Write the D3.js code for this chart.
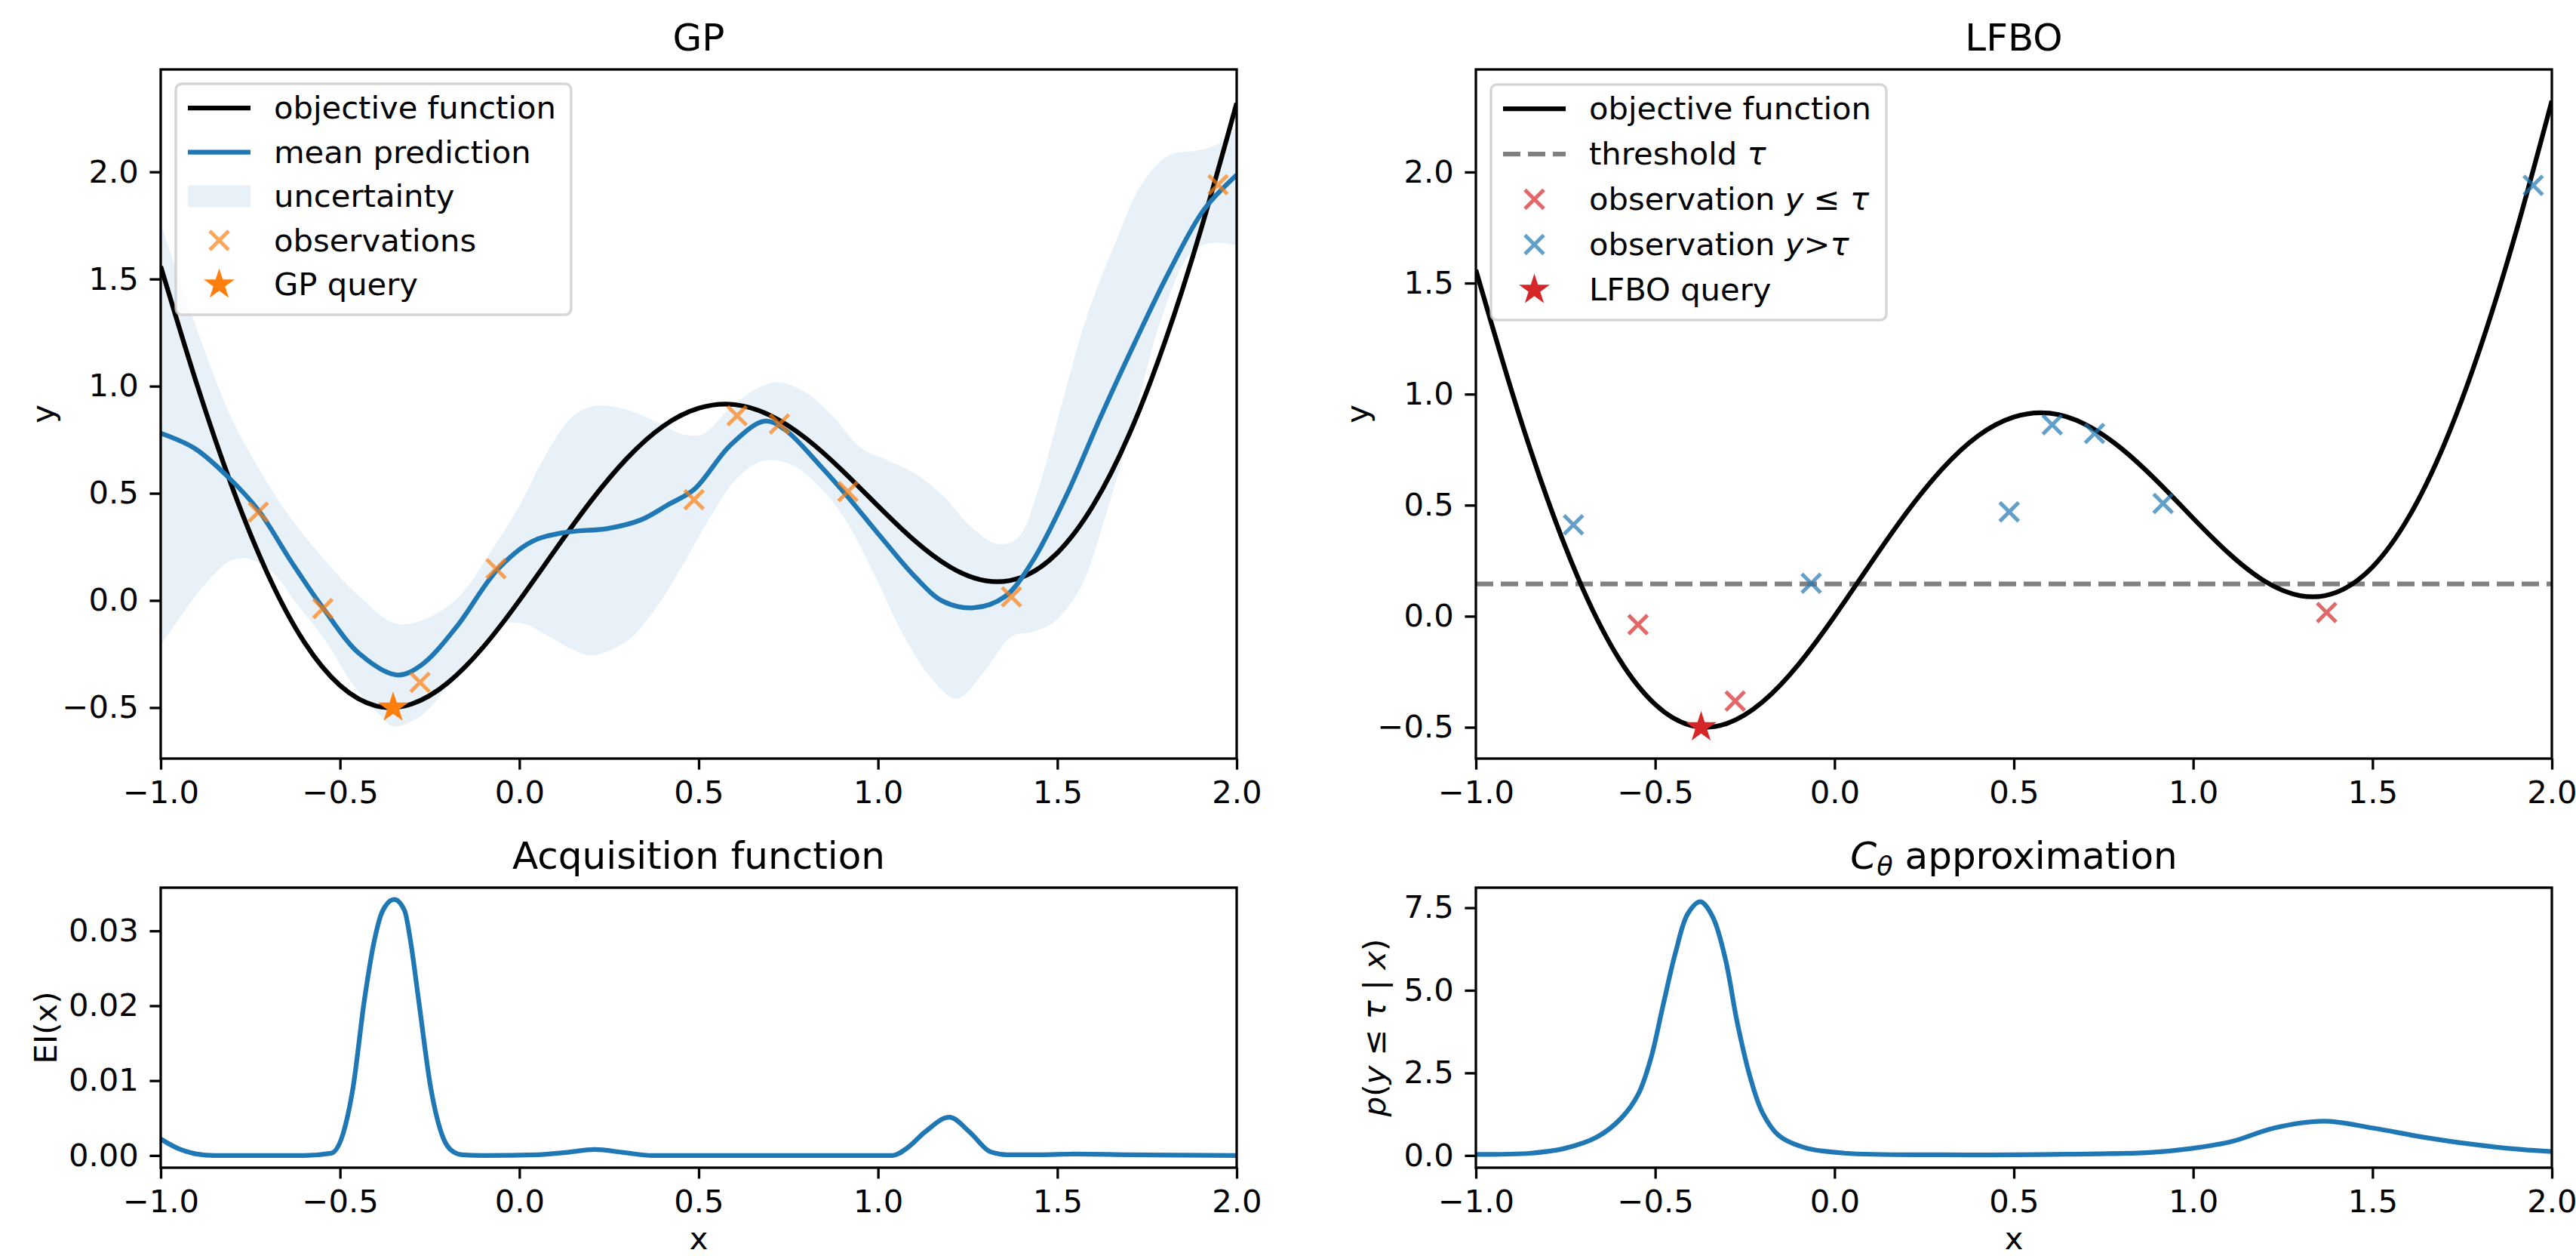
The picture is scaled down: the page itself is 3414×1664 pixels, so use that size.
<!DOCTYPE html>
<html>
<head>
<meta charset="utf-8">
<script src="https://cdn.jsdelivr.net/npm/d3@7"></script>
<style>
  body { margin: 0; background: #fff; }
  svg { display: block; font-family: "DejaVu Sans", sans-serif; }
</style>
</head>
<body>
<svg id="fig" width="3414" height="1664"></svg>
<script>
// ---------------- data ----------------
const xTicks = [-1, -0.5, 0, 0.5, 1, 1.5, 2];
const topYTicks = [-0.5, 0, 0.5, 1, 1.5, 2];
const eiTicks = [0, 0.01, 0.02, 0.03];
const clsTicks = [0, 2.5, 5, 7.5];

// objective function (black)
const objX = [-1.0, -0.9, -0.8, -0.7, -0.6, -0.5, -0.4, -0.3, -0.2, -0.1, 0.0,
  0.1, 0.2, 0.3, 0.4, 0.5, 0.6, 0.7, 0.8, 0.9, 1.0,
  1.1, 1.2, 1.3, 1.4, 1.5, 1.6, 1.7, 1.8, 1.9, 2.0];
const objY = [1.559, 1.013, 0.525, 0.117, -0.194, -0.397, -0.492, -0.483, -0.385, -0.216, 0.000,
  0.236, 0.465, 0.663, 0.812, 0.897, 0.914, 0.863, 0.755, 0.607, 0.441,
  0.282, 0.157, 0.092, 0.108, 0.222, 0.444, 0.774, 1.207, 1.729, 2.321];

// GP mean prediction
const meanX = [-1.0, -0.904, -0.809, -0.726, -0.636, -0.548, -0.445, -0.34, -0.273, -0.177, -0.063,
  0.033, 0.129, 0.244, 0.339, 0.416, 0.488, 0.588, 0.684, 0.741, 0.837, 0.913, 1.009,
  1.104, 1.181, 1.267, 1.353, 1.43, 1.525, 1.621, 1.717, 1.812, 1.908, 2.0];
const meanY = [0.780, 0.708, 0.571, 0.417, 0.181, -0.034, -0.250, -0.348, -0.301, -0.127, 0.140,
  0.273, 0.318, 0.335, 0.376, 0.448, 0.519, 0.724, 0.837, 0.796, 0.632, 0.489, 0.294,
  0.109, -0.004, -0.034, 0.017, 0.181, 0.489, 0.858, 1.207, 1.535, 1.822, 1.986];

// GP uncertainty band
const upperX = [-1.0, -0.895, -0.799, -0.732, -0.656, -0.56, -0.445, -0.34, -0.235, -0.158, -0.082,
  -0.005, 0.071, 0.148, 0.215, 0.301, 0.377, 0.454, 0.511, 0.588, 0.664, 0.722, 0.798,
  0.875, 0.951, 1.028, 1.104, 1.181, 1.258, 1.334, 1.391, 1.449, 1.506, 1.583, 1.659,
  1.736, 1.812, 1.889, 1.946, 2.0];
const upperY = [1.760, 1.247, 0.837, 0.632, 0.427, 0.222, 0.017, -0.110, -0.065, 0.037, 0.222,
  0.427, 0.673, 0.858, 0.909, 0.889, 0.837, 0.776, 0.776, 0.899, 0.991, 1.018, 0.971,
  0.858, 0.714, 0.653, 0.591, 0.489, 0.345, 0.263, 0.294, 0.530, 0.878, 1.330, 1.658,
  1.945, 2.078, 2.099, 2.129, 2.209];
const lowerX = [-1.0, -0.885, -0.809, -0.761, -0.694, -0.617, -0.541, -0.464, -0.388, -0.35, -0.273,
  -0.196, -0.12, -0.043, 0.014, 0.071, 0.148, 0.205, 0.301, 0.377, 0.454, 0.531, 0.607,
  0.684, 0.76, 0.837, 0.913, 0.99, 1.066, 1.143, 1.219, 1.296, 1.372, 1.43, 1.487,
  1.564, 1.64, 1.717, 1.793, 1.87, 1.927, 2.0];
const lowerY = [-0.209, 0.058, 0.181, 0.197, 0.140, -0.024, -0.188, -0.393, -0.537, -0.588, -0.537,
  -0.393, -0.229, -0.110, -0.110, -0.157, -0.229, -0.256, -0.188, -0.045, 0.161, 0.386, 0.571,
  0.653, 0.632, 0.530, 0.366, 0.120, -0.147, -0.352, -0.459, -0.332, -0.168, -0.147, -0.106,
  0.058, 0.427, 0.878, 1.330, 1.617, 1.668, 1.658];

// observations
const obsX = [-0.728, -0.548, -0.277, -0.065, 0.487, 0.607, 0.725, 0.916, 1.372, 1.948];
const obsY = [0.412, -0.038, -0.382, 0.148, 0.470, 0.862, 0.823, 0.508, 0.017, 1.940];
const tau = 0.145;
const gpQuery = [-0.352, -0.500];
const lfboQuery = [-0.372, -0.500];

// expected improvement
const eiX = [-1.0, -0.95, -0.9, -0.85, -0.6, -0.525, -0.491, -0.464, -0.432, -0.404, -0.381, -0.349,
  -0.32, -0.304, -0.281, -0.247, -0.212, -0.19, -0.16, -0.1, 0.05, 0.13, 0.21, 0.29, 0.37,
  1.04, 1.084, 1.13, 1.199, 1.256, 1.313, 1.36, 1.45, 1.55, 1.7, 2.0];
const eiY = [0.0022, 0.0009, 0.0002, 0.0, 0.0, 0.0003, 0.003, 0.009, 0.0208, 0.0288, 0.0327, 0.0342,
  0.0327, 0.0288, 0.0208, 0.009, 0.0023, 0.0007, 0.0001, 0.0, 0.0001, 0.0004, 0.0008, 0.0004, 0.0,
  0.0, 0.0011, 0.0031, 0.0051, 0.0031, 0.0005, 0.0001, 0.0001, 0.0002, 0.0001, 0.0];

// C_theta approximation
const clsX = [-1.0, -0.846, -0.754, -0.662, -0.593, -0.547, -0.512, -0.478, -0.443, -0.409, -0.374,
  -0.34, -0.305, -0.271, -0.236, -0.202, -0.156, -0.087, 0.028, 0.304, 0.649, 0.879, 0.994,
  1.11, 1.225, 1.363, 1.501, 1.639, 1.777, 1.915, 2.0];
const clsY = [0.03, 0.07, 0.21, 0.56, 1.15, 1.86, 2.94, 4.55, 6.16, 7.32, 7.68,
  7.23, 5.98, 4.01, 2.40, 1.32, 0.61, 0.25, 0.07, 0.02, 0.04, 0.09, 0.21,
  0.43, 0.83, 1.04, 0.83, 0.56, 0.34, 0.18, 0.12];

// ---------------- style ----------------
const FS = 41.7, TFS = 50;          // 10pt / 12pt at ~300 dpi
const LW = 6.25, SPINE = 3.3, TICK = 14.6;
const BLUE = "#1f77b4", ORANGE = "#ff7f0e", RED = "#d62728";

const svg = d3.select("#fig");
svg.append("rect").attr("width", 3414).attr("height", 1664).attr("fill", "#fff");
const defs = svg.append("defs");

const zip = (xs, ys) => xs.map((d, i) => [d, ys[i]]);

function starPath(R) {
  const r = R * 0.382, pts = [];
  for (let k = 0; k < 10; k++) {
    const a = -Math.PI / 2 + k * Math.PI / 5, rr = k % 2 ? r : R;
    pts.push([rr * Math.cos(a), rr * Math.sin(a)]);
  }
  return "M" + pts.join("L") + "Z";
}
const xMark = "M-12.5,-12.5L12.5,12.5M-12.5,12.5L12.5,-12.5";

// rich text: segments [text, style] where style is "i" (italic) or "sub"
function rich(sel, segs) {
  let sub = false;
  segs.forEach(([t, s]) => {
    const ts = sel.append("tspan").text(t);
    if (s === "i") ts.attr("font-style", "italic");
    if (s === "sub") {
      ts.attr("font-style", "italic").attr("font-size", "0.7em").attr("dy", "0.25em");
      sub = true;
    } else if (sub) {
      ts.attr("dy", "-0.175em");
      sub = false;
    }
  });
  return sel;
}

function panel(id, box, yDomain, yTicks, yFmt, title, ylabel, xlabel, ylabelX) {
  const x = d3.scaleLinear().domain([-1, 2]).range([box.x0, box.x1]);
  const y = d3.scaleLinear().domain(yDomain).range([box.y1, box.y0]);
  defs.append("clipPath").attr("id", "clip-" + id).append("rect")
    .attr("x", box.x0).attr("y", box.y0)
    .attr("width", box.x1 - box.x0).attr("height", box.y1 - box.y0);
  const g = svg.append("g");
  const plot = g.append("g").attr("clip-path", `url(#clip-${id})`);
  const frame = g.append("g");

  const xa = frame.append("g").attr("transform", `translate(0,${box.y1})`)
    .call(d3.axisBottom(x).tickValues(xTicks).tickFormat(d3.format(".1f"))
      .tickSize(TICK).tickPadding(TICK).tickSizeOuter(0));
  const ya = frame.append("g").attr("transform", `translate(${box.x0},0)`)
    .call(d3.axisLeft(y).tickValues(yTicks).tickFormat(d3.format(yFmt))
      .tickSize(TICK).tickPadding(TICK).tickSizeOuter(0));
  [xa, ya].forEach(a => {
    a.select(".domain").remove();
    a.attr("font-size", FS).attr("font-family", '"DejaVu Sans", sans-serif');
    a.selectAll("line").attr("stroke", "#000").attr("stroke-width", SPINE);
    a.selectAll("text").attr("fill", "#000");
  });

  frame.append("rect")
    .attr("x", box.x0).attr("y", box.y0)
    .attr("width", box.x1 - box.x0).attr("height", box.y1 - box.y0)
    .attr("fill", "none").attr("stroke", "#000").attr("stroke-width", SPINE);

  rich(frame.append("text")
    .attr("x", (box.x0 + box.x1) / 2).attr("y", box.y0 - 25)
    .attr("text-anchor", "middle").attr("font-size", TFS), title);

  rich(frame.append("text")
    .attr("transform", `translate(${ylabelX},${(box.y0 + box.y1) / 2}) rotate(-90)`)
    .attr("text-anchor", "middle").attr("dy", "0.35em").attr("font-size", FS), ylabel);

  if (xlabel) {
    frame.append("text")
      .attr("x", (box.x0 + box.x1) / 2).attr("y", 1655)
      .attr("text-anchor", "middle").attr("font-size", FS).text(xlabel);
  }
  return { g, plot, x, y };
}

function drawX(layer, pts, color, x, y) {
  layer.selectAll(null).data(pts).join("path")
    .attr("d", xMark)
    .attr("transform", d => `translate(${x(d[0])},${y(d[1])})`)
    .attr("fill", "none").attr("stroke", color).attr("stroke-opacity", 0.7)
    .attr("stroke-width", 5);
}
function drawStar(layer, p, color, x, y) {
  layer.append("path").attr("d", starPath(21.5))
    .attr("transform", `translate(${x(p[0])},${y(p[1])})`)
    .attr("fill", color);
}

function legend(g, bx, by, rowGap, rows) {
  const lg = g.append("g");
  const frame = lg.append("rect");
  const hx = bx + 16, hl = 83, tx = bx + 130;
  let maxW = 0;
  rows.forEach((r, i) => {
    const cy = by + 32 + i * rowGap;
    if (r.kind === "line") {
      lg.append("line").attr("x1", hx).attr("x2", hx + hl).attr("y1", cy).attr("y2", cy)
        .attr("stroke", r.color).attr("stroke-width", LW)
        .attr("stroke-dasharray", r.dash ? "23,10" : null);
    } else if (r.kind === "patch") {
      lg.append("rect").attr("x", hx).attr("y", cy - 14.5).attr("width", hl).attr("height", 29)
        .attr("fill", r.color).attr("fill-opacity", 0.1);
    } else if (r.kind === "x") {
      lg.append("path").attr("d", xMark).attr("transform", `translate(${hx + hl / 2},${cy})`)
        .attr("fill", "none").attr("stroke", r.color).attr("stroke-opacity", 0.7).attr("stroke-width", 5);
    } else if (r.kind === "star") {
      lg.append("path").attr("d", starPath(21.5)).attr("transform", `translate(${hx + hl / 2},${cy})`)
        .attr("fill", r.color);
    }
    const t = rich(lg.append("text").attr("x", tx).attr("y", cy + 14).attr("font-size", FS), r.label);
    maxW = Math.max(maxW, t.node().getComputedTextLength());
  });
  frame.attr("x", bx).attr("y", by)
    .attr("width", tx - bx + maxW + 20).attr("height", 32 + (rows.length - 1) * rowGap + 40)
    .attr("rx", 8)
    .attr("fill", "#fff").attr("fill-opacity", 0.8)
    .attr("stroke", "#cccccc").attr("stroke-opacity", 0.8).attr("stroke-width", 3.5);
}

// ---------------- GP panel ----------------
const gp = panel("gp", { x0: 213, x1: 1639, y0: 92, y1: 1005 }, [-0.738, 2.478], topYTicks, ".1f",
  [["GP"]], [["y"]], null, 56);

const band = d3.line().x(d => gp.x(d[0])).y(d => gp.y(d[1])).curve(d3.curveCatmullRom.alpha(0.5));
const upPath = band(zip(upperX, upperY));
const loPath = band(zip(lowerX, lowerY).reverse());
gp.plot.append("path").attr("d", upPath + "L" + loPath.slice(1) + "Z")
  .attr("fill", BLUE).attr("fill-opacity", 0.1);

gp.plot.append("path")
  .attr("d", d3.line().x(d => gp.x(d[0])).y(d => gp.y(d[1])).curve(d3.curveNatural)(zip(objX, objY)))
  .attr("fill", "none").attr("stroke", "#000").attr("stroke-width", LW);
gp.plot.append("path")
  .attr("d", d3.line().x(d => gp.x(d[0])).y(d => gp.y(d[1])).curve(d3.curveCatmullRom.alpha(0.5))(zip(meanX, meanY)))
  .attr("fill", "none").attr("stroke", BLUE).attr("stroke-width", LW);
drawX(gp.plot, zip(obsX, obsY), ORANGE, gp.x, gp.y);
drawStar(gp.plot, gpQuery, ORANGE, gp.x, gp.y);

legend(gp.g, 233, 111, 58.5, [
  { kind: "line", color: "#000", label: [["objective function"]] },
  { kind: "line", color: BLUE, label: [["mean prediction"]] },
  { kind: "patch", color: BLUE, label: [["uncertainty"]] },
  { kind: "x", color: ORANGE, label: [["observations"]] },
  { kind: "star", color: ORANGE, label: [["GP query"]] }
]);

// ---------------- LFBO panel ----------------
const lf = panel("lf", { x0: 1956, x1: 3382, y0: 92, y1: 1005 }, [-0.641, 2.462], topYTicks, ".1f",
  [["LFBO"]], [["y"]], null, 1798);

lf.plot.append("line")
  .attr("x1", lf.x(-1)).attr("x2", lf.x(2)).attr("y1", lf.y(tau)).attr("y2", lf.y(tau))
  .attr("stroke", "#808080").attr("stroke-width", LW).attr("stroke-dasharray", "23,10");
lf.plot.append("path")
  .attr("d", d3.line().x(d => lf.x(d[0])).y(d => lf.y(d[1])).curve(d3.curveNatural)(zip(objX, objY)))
  .attr("fill", "none").attr("stroke", "#000").attr("stroke-width", LW);
const obs = zip(obsX, obsY);
drawX(lf.plot, obs.filter(d => d[1] <= tau), RED, lf.x, lf.y);
drawX(lf.plot, obs.filter(d => d[1] > tau), BLUE, lf.x, lf.y);
drawStar(lf.plot, lfboQuery, RED, lf.x, lf.y);

legend(lf.g, 1976, 112, 60, [
  { kind: "line", color: "#000", label: [["objective function"]] },
  { kind: "line", color: "#808080", dash: true, label: [["threshold "], ["τ", "i"]] },
  { kind: "x", color: RED, label: [["observation "], ["y", "i"], [" ≤ "], ["τ", "i"]] },
  { kind: "x", color: BLUE, label: [["observation "], ["y", "i"], [">"], ["τ", "i"]] },
  { kind: "star", color: RED, label: [["LFBO query"]] }
]);

// ---------------- acquisition panel ----------------
const ei = panel("ei", { x0: 213, x1: 1639, y0: 1176, y1: 1547 }, [-0.00163, 0.03577], eiTicks, ".2f",
  [["Acquisition function"]], [["EI(x)"]], "x", 60);
ei.plot.append("path")
  .attr("d", d3.line().x(d => ei.x(d[0])).y(d => ei.y(d[1])).curve(d3.curveMonotoneX)(zip(eiX, eiY)))
  .attr("fill", "none").attr("stroke", BLUE).attr("stroke-width", LW);

// ---------------- C_theta panel ----------------
const cl = panel("cl", { x0: 1956, x1: 3382, y0: 1176, y1: 1547 }, [-0.370, 8.108], clsTicks, ".1f",
  [["C", "i"], ["θ", "sub"], [" approximation"]],
  [["p", "i"], ["("], ["y", "i"], [" ≤ "], ["τ", "i"], [" | "], ["x", "i"], [")"]], "x", 1821);
cl.plot.append("path")
  .attr("d", d3.line().x(d => cl.x(d[0])).y(d => cl.y(d[1])).curve(d3.curveCatmullRom.alpha(0.5))(zip(clsX, clsY)))
  .attr("fill", "none").attr("stroke", BLUE).attr("stroke-width", LW);
</script>
</body>
</html>
